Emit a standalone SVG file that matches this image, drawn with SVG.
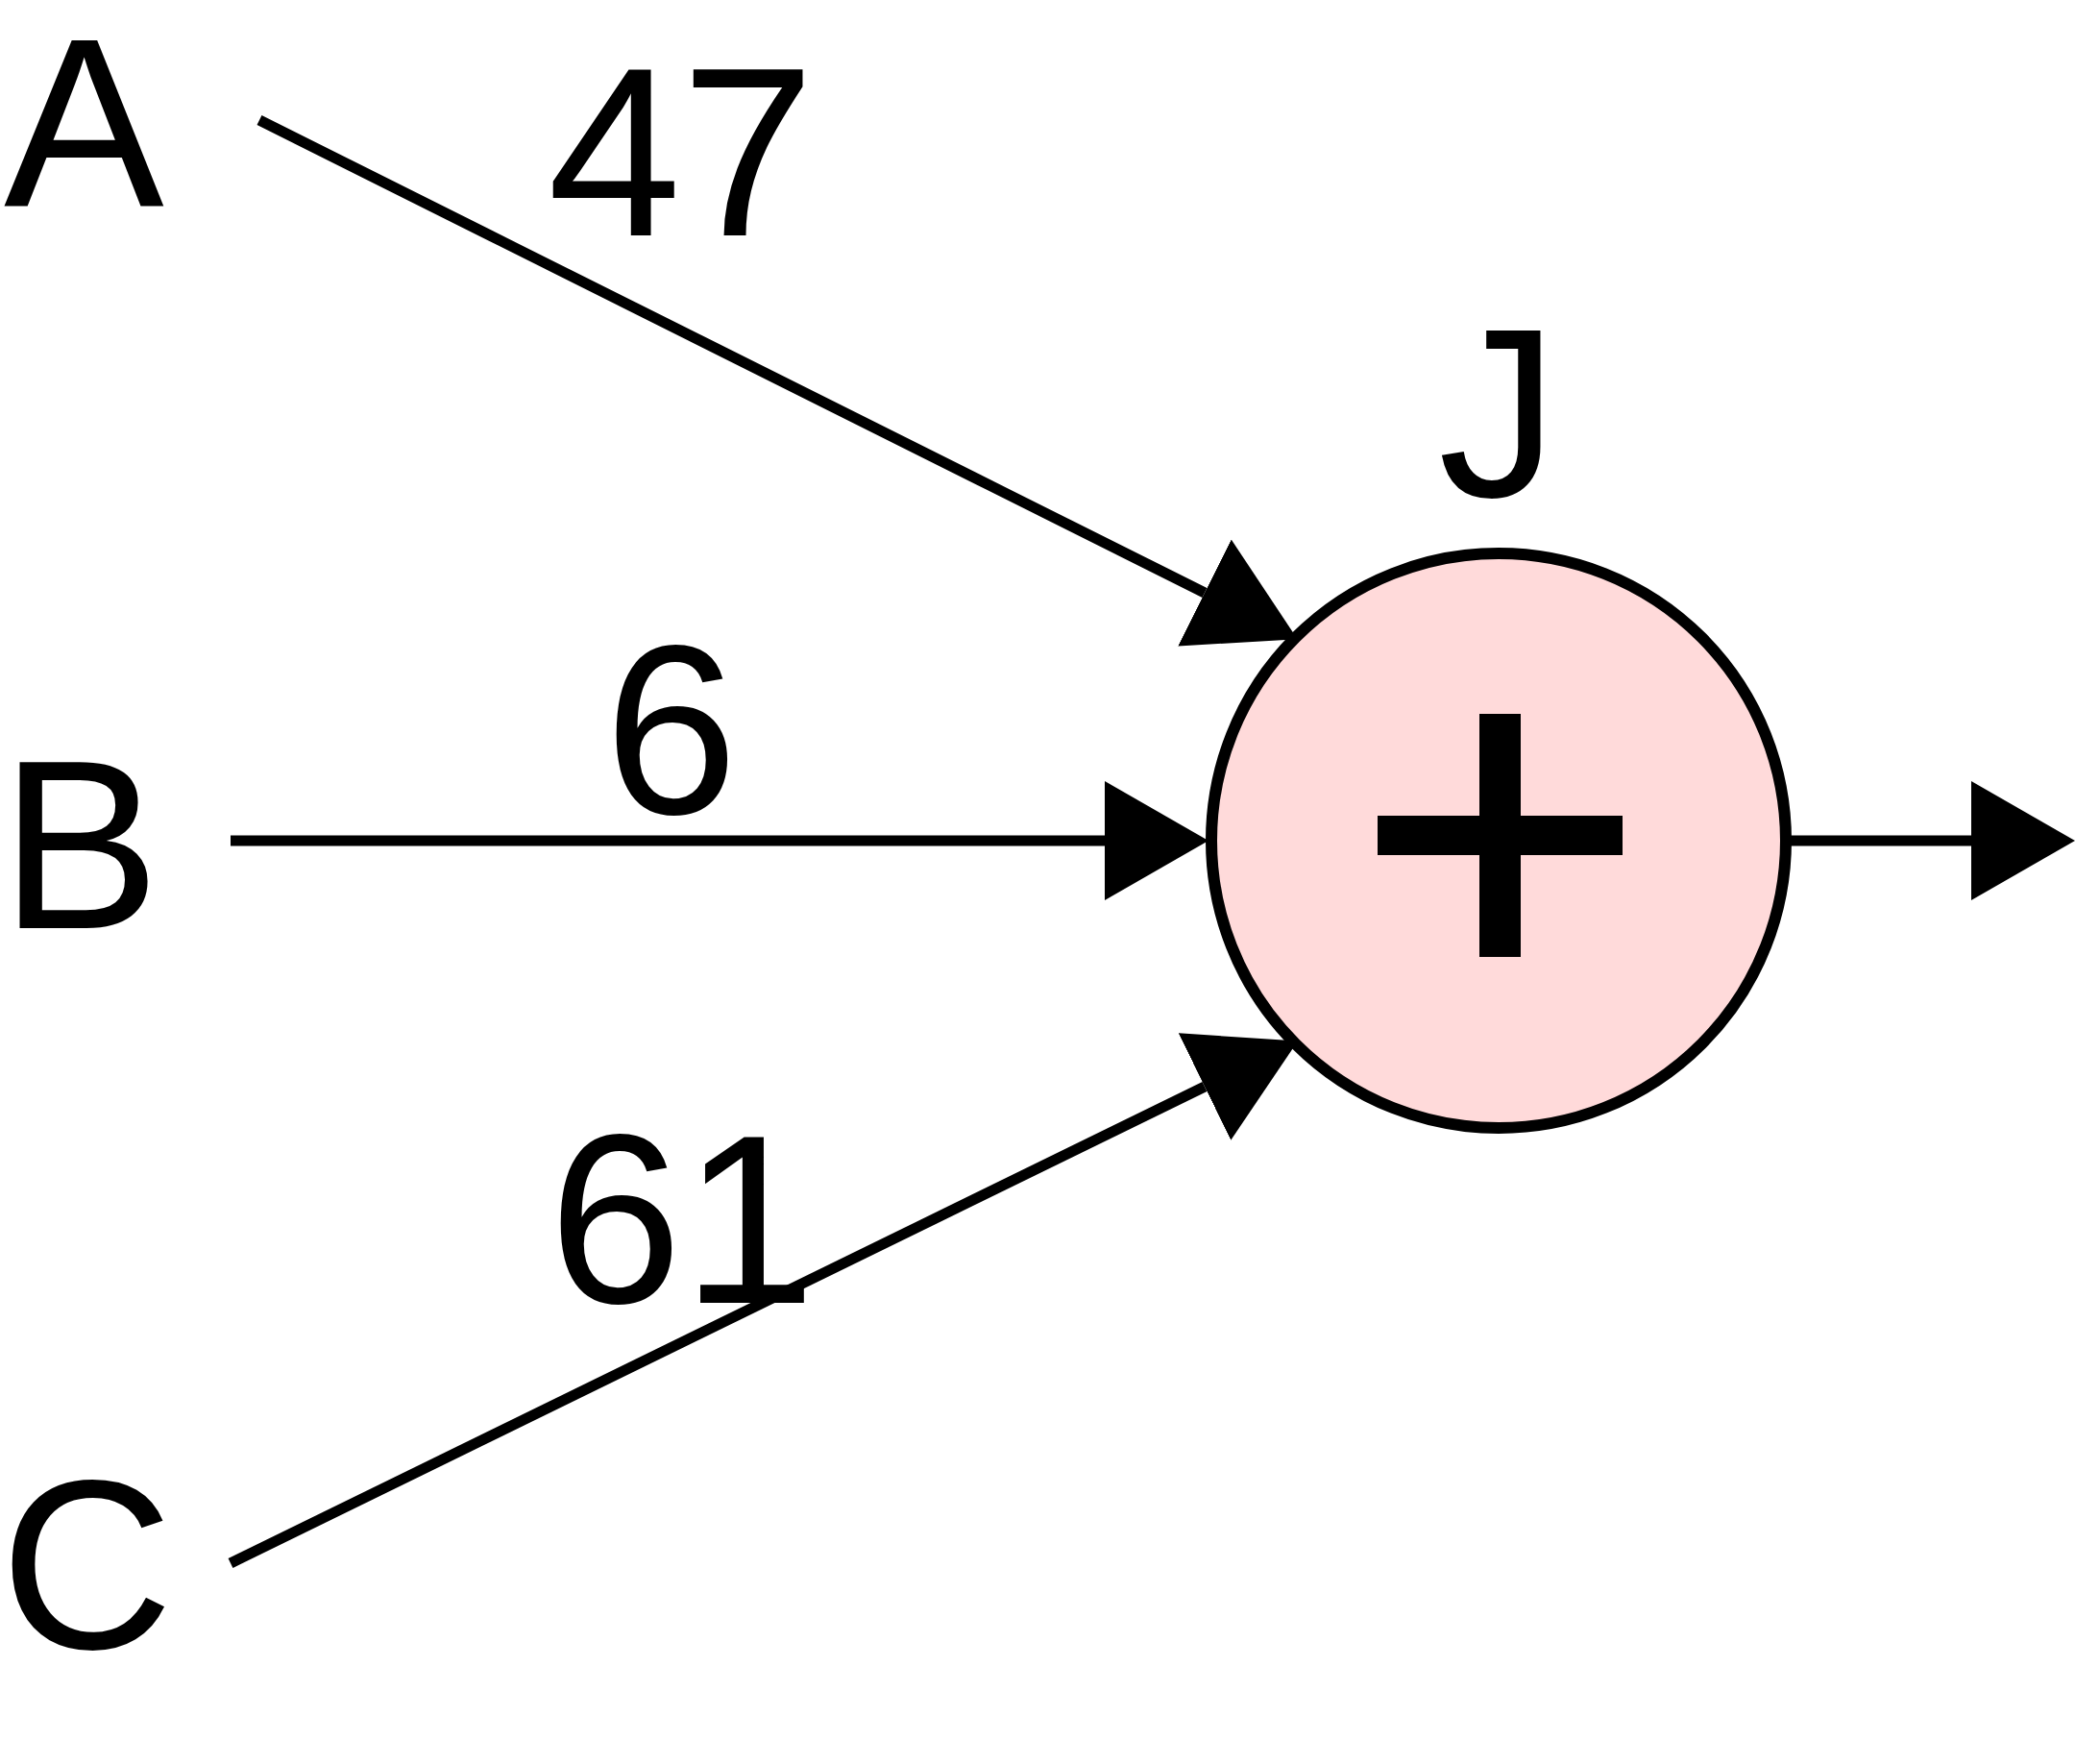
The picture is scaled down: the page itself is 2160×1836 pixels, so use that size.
<svg xmlns="http://www.w3.org/2000/svg" width="2160" height="1836" viewBox="0 0 2160 1836">
  <style>
    .lbl { font-family: "Liberation Sans", Arial, sans-serif; font-size: 250px; fill: #000; }
    .edge { stroke: #000; stroke-width: 11; fill: none; }
  </style>
  <defs>
    <marker id="arrow" markerUnits="userSpaceOnUse" viewBox="0 -62 108 124" refX="0" refY="0" markerWidth="108" markerHeight="124" orient="auto">
      <path d="M0,-62 L108,0 L0,62 Z" fill="#000"/>
    </marker>
  </defs>
  <rect x="0" y="0" width="2160" height="1836" fill="#fff"/>

  <g id="connectors">
    <g id="edge-A-J">
      <line class="edge" x1="270" y1="125" x2="1254" y2="617" marker-end="url(#arrow)"/>
      <text class="lbl" x="570" y="245">47</text>
    </g>
    <g id="edge-B-J">
      <line class="edge" x1="240" y1="875" x2="1150" y2="875" marker-end="url(#arrow)"/>
      <text class="lbl" x="629" y="847">6</text>
    </g>
    <g id="edge-C-J">
      <line class="edge" x1="240" y1="1627" x2="1254" y2="1131" marker-end="url(#arrow)"/>
      <text class="lbl" x="571" y="1356">61</text>
    </g>
    <g id="edge-J-out">
      <line class="edge" x1="1862" y1="875" x2="2052" y2="875" marker-end="url(#arrow)"/>
    </g>
  </g>

  <g id="node-A"><text class="lbl" x="4" y="214">A</text></g>
  <g id="node-B"><text class="lbl" x="0" y="966">B</text></g>
  <g id="node-C"><text class="lbl" x="0" y="1716">C</text></g>

  <g id="node-J">
    <circle cx="1560" cy="875" r="299" fill="#ffdada" stroke="#000" stroke-width="12"/>
    <rect x="1540" y="743" width="43" height="253" fill="#000"/>
    <rect x="1434" y="849" width="255" height="41" fill="#000"/>
    <text class="lbl" x="1497" y="517">J</text>
  </g>
</svg>
